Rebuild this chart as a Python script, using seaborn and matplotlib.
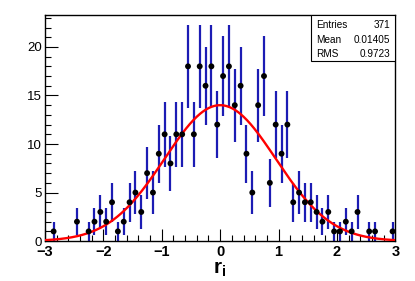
import numpy as np
import pandas as pd
import matplotlib
matplotlib.use("Agg")
import matplotlib.pyplot as plt
from matplotlib.patches import Rectangle
from matplotlib.ticker import MultipleLocator
import seaborn as sns

# histogram of r_i, bin width 0.1 (empty bins left out)
bin_centers = [-2.85, -2.45, -2.25, -2.15, -2.05, -1.95, -1.85, -1.75, -1.65, -1.55,
               -1.45, -1.35, -1.25, -1.15, -1.05, -0.95, -0.85, -0.75, -0.65, -0.55,
               -0.45, -0.35, -0.25, -0.15, -0.05, 0.05, 0.15, 0.25, 0.35, 0.45,
               0.55, 0.65, 0.75, 0.85, 0.95, 1.05, 1.15, 1.25, 1.35, 1.45,
               1.55, 1.65, 1.75, 1.85, 1.95, 2.05, 2.15, 2.25, 2.35, 2.55,
               2.65, 2.95]
counts = [1, 2, 1, 2, 3, 2, 4, 1, 2, 4,
          5, 3, 7, 5, 9, 11, 8, 11, 11, 18,
          11, 18, 16, 18, 12, 17, 18, 14, 16, 9,
          5, 14, 17, 6, 12, 9, 12, 4, 5, 4,
          4, 3, 2, 3, 1, 1, 2, 1, 3, 1,
          1, 1]

# gaussian fit parameters
fit_const = 14.0
fit_mean = 0.0
fit_sigma = 0.95

stats_labels = ["Entries", "Mean", "RMS"]
stats_values = ["371", "0.01405", "0.9723"]

df = pd.DataFrame({"x": bin_centers, "n": counts})
df["err"] = np.sqrt(df["n"])

xf = np.linspace(-3, 3, 301)
fit = pd.DataFrame({"x": xf, "y": fit_const * np.exp(-0.5 * ((xf - fit_mean) / fit_sigma) ** 2)})

sns.set_theme(style="ticks")
plt.rcParams["font.family"] = ["Liberation Sans", "DejaVu Sans"]
plt.rcParams["mathtext.fontset"] = "custom"
plt.rcParams["mathtext.bf"] = "Liberation Sans:bold"
plt.rcParams["mathtext.rm"] = "Liberation Sans"
plt.rcParams["text.color"] = "black"
plt.rcParams["xtick.color"] = "black"
plt.rcParams["ytick.color"] = "black"
plt.rcParams["axes.labelcolor"] = "black"

fig = plt.figure(figsize=(4.15, 2.81), dpi=100)
ax = fig.add_axes([0.108, 0.142, 0.845, 0.805])

ax.errorbar(df["x"], df["n"], yerr=df["err"], fmt="none", ecolor="#1c1cb4",
            elinewidth=1.6, capsize=0, zorder=2)
sns.lineplot(data=fit, x="x", y="y", color="#ff0000", linewidth=1.7, ax=ax, zorder=3)
sns.scatterplot(data=df, x="x", y="n", color="black", s=18, edgecolor="none",
                ax=ax, zorder=4)

ax.set_xlim(-3, 3)
ax.set_ylim(0, 23.3)
ax.set_xticks([-3, -2, -1, 0, 1, 2, 3])
ax.set_xticklabels(["\u22123", "\u22122", "\u22121", "0", "1", "2", "3"], fontweight="bold")
ax.xaxis.set_minor_locator(MultipleLocator(0.2))
ax.yaxis.set_major_locator(MultipleLocator(5))
ax.yaxis.set_minor_locator(MultipleLocator(1))
ax.tick_params(which="both", direction="in", bottom=True, left=True,
               top=False, right=False, color="black", labelcolor="black")
ax.tick_params(which="major", length=9, width=0.8)
ax.tick_params(which="minor", length=4.5, width=0.8)
ax.tick_params(axis="y", labelsize=9.5, pad=2)
ax.tick_params(axis="x", labelsize=10.5, pad=3)
for s in ax.spines.values():
    s.set_visible(True)
    s.set_color("black")
    s.set_linewidth(1.0)

ax.set_xlabel(r"$\mathbf{r_i}$", fontsize=15, labelpad=0)
ax.set_ylabel("")

# stats box
bx0, by0 = 0.758, 0.797
ax.add_patch(Rectangle((bx0, by0), 1 - bx0, 1 - by0, transform=ax.transAxes,
                       facecolor="white", edgecolor="black", linewidth=0.8, zorder=5))
for i, (lab, val) in enumerate(zip(stats_labels, stats_values)):
    yy = 0.955 - i * 0.064
    ax.text(bx0 + 0.015, yy, lab, transform=ax.transAxes, fontsize=7.2,
            va="center", ha="left", zorder=6)
    ax.text(0.985, yy, val, transform=ax.transAxes, fontsize=7.2,
            va="center", ha="right", zorder=6)

fig.savefig("out.png", dpi=100)
